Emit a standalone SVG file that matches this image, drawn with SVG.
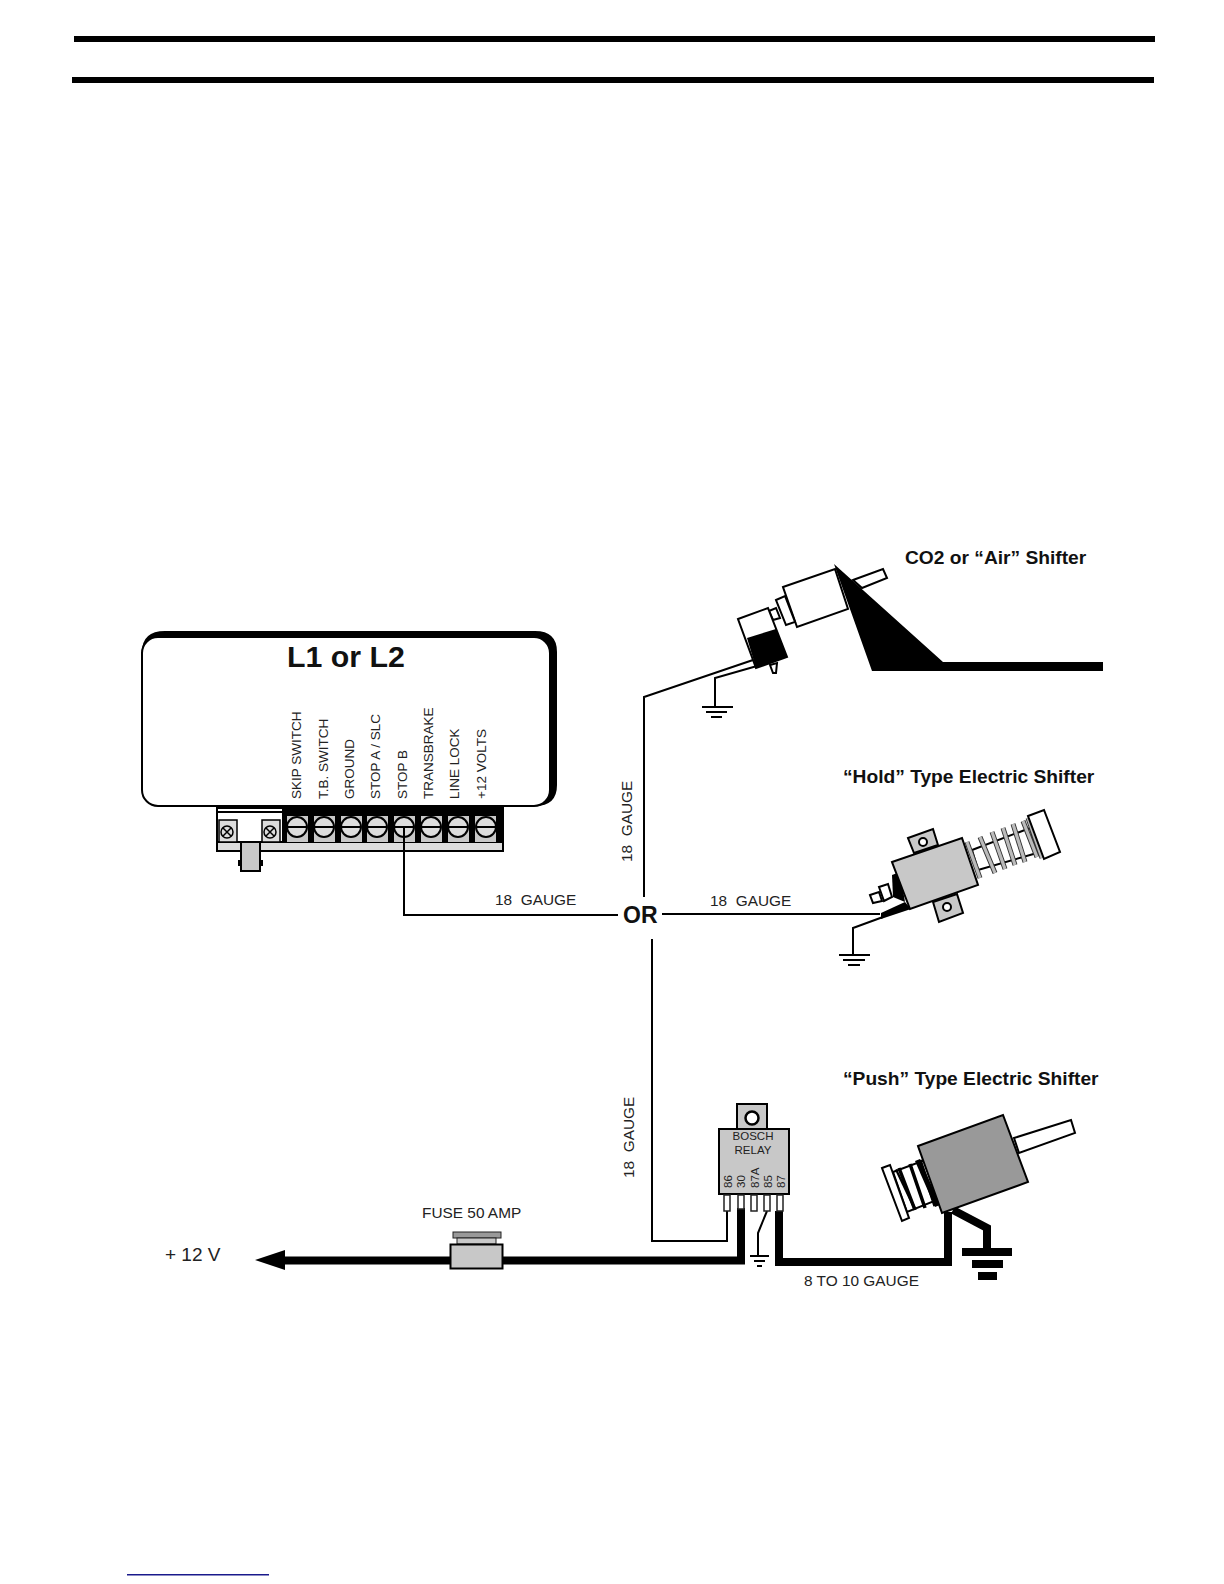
<svg xmlns="http://www.w3.org/2000/svg" width="1224" height="1584" viewBox="0 0 1224 1584">
<style>
text{font-family:"Liberation Sans",Arial,sans-serif;fill:#222}
.b{font-weight:bold;fill:#111}
.l{font-size:15.4px}
.t{font-size:13.5px}
.w{fill:none;stroke:#000;stroke-width:2;stroke-linejoin:miter}
.k{fill:none;stroke:#000;stroke-width:8;stroke-linejoin:miter}
.o{stroke:#000;stroke-width:2}
.g{fill:#c8c8c8}
.n{fill:#fff}
.c{fill:#c8c8c8;stroke:#000;stroke-width:2}
.s{fill:none;stroke:#333;stroke-width:5}
.s2{fill:none;stroke:#bbb;stroke-width:3.2}
.gr{stroke:#000;stroke-width:2.2}
</style>
<rect width="1224" height="1584" fill="#fff"/>
<g id="rules"><rect x="74" y="36" width="1081" height="6"/><rect x="72" y="77" width="1082" height="6"/><rect x="127" y="1574" width="142" height="1.5" fill="#1a1a8c"/></g>
<g id="module">
<path d="M142 652Q142 631 165 631H535Q557 631 557 652V785Q557 806 535 806H300V800H540V652Z" fill="#000"/>
<rect x="142" y="637" width="408" height="169" rx="16" fill="#fff" stroke="#000" stroke-width="2"/>
<text class="b" x="287" y="667" font-size="30.300">L1 or L2</text>
<g class="t">
<text transform="translate(301 799) rotate(-90)">SKIP SWITCH</text>
<text transform="translate(328 799) rotate(-90)">T.B. SWITCH</text>
<text transform="translate(354 799) rotate(-90)">GROUND</text>
<text transform="translate(380 799) rotate(-90)">STOP A / SLC</text>
<text transform="translate(407 799) rotate(-90)">STOP B</text>
<text transform="translate(433 799) rotate(-90)">TRANSBRAKE</text>
<text transform="translate(459 799) rotate(-90)">LINE LOCK</text>
<text transform="translate(486 799) rotate(-90)">+12 VOLTS</text>
</g>
</g>
<g id="terminal-block">
<rect x="217" y="808" width="286" height="43" fill="#ddd" stroke="#000" stroke-width="2"/>
<rect x="218" y="809" width="64" height="33" fill="#fff"/>
<rect x="282" y="806" width="221" height="37"/>
<path d="M218 812H282" stroke="#000" stroke-width="2"/>
<path d="M218 842H282" stroke="#000" stroke-width="2"/>
<rect x="219" y="820" width="18" height="22" fill="#ddd" stroke="#000" stroke-width="1.500"/>
<rect x="262" y="820" width="18" height="22" fill="#ddd" stroke="#000" stroke-width="1.500"/>
<g fill="none" stroke="#000" stroke-width="1.500">
<circle cx="227" cy="832" r="6"/><path d="M223 828l8 8m0-8l-8 8"/>
<circle cx="270" cy="832" r="6"/><path d="M266 828l8 8m0-8l-8 8"/>
</g>
<rect x="241" y="842" width="19" height="29" class="c"/>
<path d="M238 860h3v6h-3zM260 860h3v6h-3z"/>
<g id="screws">
<rect x="287" y="816" width="21" height="26" class="g"/><rect x="314" y="816" width="21" height="26" class="g"/><rect x="341" y="816" width="21" height="26" class="g"/><rect x="367" y="816" width="21" height="26" class="g"/><rect x="394" y="816" width="21" height="26" class="g"/><rect x="421" y="816" width="21" height="26" class="g"/><rect x="448" y="816" width="21" height="26" class="g"/><rect x="475" y="816" width="21" height="26" class="g"/>
<g fill="#ddd" stroke="#000" stroke-width="2">
<circle cx="297" cy="827" r="10"/><circle cx="324" cy="827" r="10"/><circle cx="351" cy="827" r="10"/><circle cx="377" cy="827" r="10"/><circle cx="404" cy="827" r="10"/><circle cx="431" cy="827" r="10"/><circle cx="458" cy="827" r="10"/><circle cx="486" cy="827" r="10"/>
<path d="M287 827H307M314 827H334M341 827H361M367 827H387M394 827H414M421 827H441M448 827H468M476 827H496"/>
</g>
</g>
</g>
<g id="connectors">
<path class="w" d="M404 827V915H618"/>
<path class="w" d="M662 914H880"/>
<path class="w" d="M644 897V697L753 660"/>
<path class="w" d="M715 707V678L757 666"/>
<path class="w" d="M652 939V1241H727V1210"/>
<path class="w" d="M767 1211L758 1233V1257"/>
<path class="w" d="M853 955V928L883 917"/>
<path class="k" d="M285 1260.500H741V1208"/>
<path class="k" d="M779 1211V1262H948V1212"/>
<path d="M255 1260L285 1250V1270Z"/>
<path class="k" d="M953 1210L987 1228V1250"/>
</g>
<g id="air-shifter">
<path class="n o" d="M853 580L883 569L887 578L862 588Z"/>
<path d="M834 564L943 662H1103V671H872Z"/>
<path class="n o" d="M783 587L835 569L848 609L797 627Z"/>
<path class="n o" d="M776 600L785 596L795 622L786 625Z"/>
<path class="n o" d="M769 611L776 608L780 618L773 620Z"/>
<path class="n o" d="M738 619L768 608L787 657L756 668Z"/>
<path d="M747 638L776 629L787 657L756 668Z"/>
<path class="n o" d="M770 665L777 663L776 673L773 673Z"/>
<path class="gr" d="M702 707H733M706 712H727M711 717H722"/>
</g>
<g id="hold-shifter">
<path class="c" d="M908 838L933 829L938 845L914 853Z"/>
<path class="c" d="M933 902L957 894L963 913L939 922Z"/>
<circle cx="923" cy="842" r="4" class="n o"/><circle cx="947" cy="907" r="4" class="n o"/>
<path d="M881 913L905 902L911 909L881 919Z"/>
<path d="M892 875L900 872L905 902L893 897Z"/>
<path class="n o" d="M879 887L888 884L892 897L884 901Z"/>
<path class="n o" d="M870 895L879 892L882 901L873 903Z"/>
<path class="n o" d="M972 850L1030 828L1037 853L978 870Z"/>
<path class="s" d="M967 842L980 878M980 837L995 873M992 832L1005 869M1003 828L1015 865M1013 824L1025 862M1023 821L1037 857M1028 818L1042 858"/>
<path class="s2" d="M967 842L980 878M980 837L995 873M992 832L1005 869M1003 828L1015 865M1013 824L1025 862M1023 821L1037 857M1028 818L1042 858"/>
<path class="n o" d="M1028 816L1044 810L1060 852L1044 859Z"/>
<path class="c" d="M892 862L962 838L978 885L910 909Z"/>
<path class="gr" d="M839 955H870M843 960H865M848 965H860"/>
</g>
<g id="relay">
<rect x="737" y="1104" width="30" height="25" class="c"/>
<circle cx="752" cy="1118" r="6.500" class="n" stroke="#000" stroke-width="2.500"/>
<rect x="719" y="1129" width="70" height="65" class="c"/>
<text x="753" y="1140" font-size="11.500" text-anchor="middle">BOSCH</text>
<text x="753" y="1154" font-size="11.500" text-anchor="middle">RELAY</text>
<g font-size="11.500">
<text transform="translate(732 1188) rotate(-90)">86</text>
<text transform="translate(745 1188) rotate(-90)">30</text>
<text transform="translate(759 1188) rotate(-90)">87A</text>
<text transform="translate(772 1188) rotate(-90)">85</text>
<text transform="translate(785 1188) rotate(-90)">87</text>
</g>
<g fill="#fff" stroke="#222" stroke-width="1.500">
<rect x="724" y="1195" width="6" height="16"/><rect x="738" y="1195" width="6" height="14"/><rect x="751" y="1195" width="6" height="16"/><rect x="764" y="1195" width="6" height="16"/><rect x="777" y="1195" width="6" height="16"/>
</g>
<path class="gr" d="M750 1256H769M754 1261H765M757 1266H762"/>
</g>
<g id="push-shifter">
<path class="n o" d="M1014 1138L1071 1120L1075 1133L1019 1153Z"/>
<path fill="#fff" stroke="#000" stroke-width="2" d="M893 1172L925 1160L937 1200L907 1212Z"/>
<path d="M915 1161L920 1159L940 1205L935 1207Z"/>
<path stroke="#000" stroke-width="3.500" d="M899 1168L915 1210M910 1164L925 1208M920 1160L935 1206"/>
<path class="n o" d="M882 1168L890 1165L909 1218L902 1221Z"/>
<path d="M895 1170L897 1169L916 1208L914 1210Z"/>
<path fill="#999" stroke="#000" stroke-width="2" d="M918 1146L1003 1115L1028 1182L942 1213Z"/>
<rect x="962" y="1248" width="50" height="8"/><rect x="972" y="1260" width="31" height="8"/><rect x="978" y="1272" width="19" height="8"/>
</g>
<g id="fuse">
<rect x="453" y="1232" width="48" height="6" fill="#999" stroke="#222"/>
<rect x="457" y="1238" width="39" height="6" class="g" stroke="#222"/>
<rect x="450.500" y="1244.500" width="52" height="24" class="c"/>
</g>
<g id="labels">
<text class="b" x="905" y="564" font-size="19.200">CO2 or “Air” Shifter</text>
<text class="b" x="843" y="783" font-size="19.200">“Hold” Type Electric Shifter</text>
<text class="b" x="843" y="1085" font-size="19.200">“Push” Type Electric Shifter</text>
<text class="l" x="495" y="905" xml:space="preserve">18  GAUGE</text>
<text class="l" x="710" y="906" xml:space="preserve">18  GAUGE</text>
<text class="l" xml:space="preserve" transform="translate(632 862) rotate(-90)">18  GAUGE</text>
<text class="l" xml:space="preserve" transform="translate(634 1178) rotate(-90)">18  GAUGE</text>
<text class="b" x="623" y="923" font-size="23">OR</text>
<text class="l" x="804" y="1286">8 TO 10 GAUGE</text>
<text class="l" x="422" y="1218">FUSE 50 AMP</text>
<text x="165" y="1261" font-size="19">+ 12 V</text>
</g>
</svg>
